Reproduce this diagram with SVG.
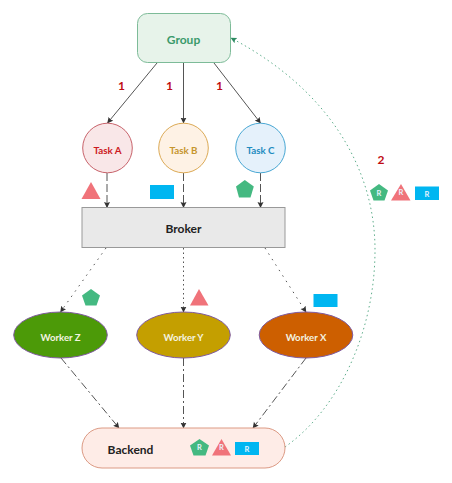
<svg xmlns="http://www.w3.org/2000/svg" width="452" height="483" viewBox="0 0 452 483">
<style>
text{font-family:Lato,"Liberation Sans",sans-serif;font-weight:700;text-anchor:middle}
.t{font-size:9.800px}
.w{font-size:9.600px;fill:#f4f4e0}
.n{font-size:12px;fill:#c00d14}
.b{font-size:12px;fill:#222}
.r{font-size:7.500px;fill:#e8f4ff}
.c{fill:none;stroke:#555;stroke-width:1}
.tri{fill:#f0737a}.pen{fill:#44b981}.rec{fill:#00b6f1}
.e{stroke:#7f5a9e;stroke-width:1}
</style>
<defs>
<marker id="a" markerWidth="8" markerHeight="8" refX="5.500" refY="3" orient="auto" markerUnits="userSpaceOnUse"><path d="M0,0L6,3L0,6L1,3Z" fill="#333"/></marker>
<marker id="g" markerWidth="8" markerHeight="8" refX="5.500" refY="3" orient="auto" markerUnits="userSpaceOnUse"><path d="M0,0L6,3L0,6L1,3Z" fill="#2e8b62"/></marker>
</defs>
<g id="connectors">
<path class="c" marker-end="url(#a)" d="M157,63L107.500,123"/>
<path class="c" marker-end="url(#a)" d="M183.500,63V123"/>
<path class="c" marker-end="url(#a)" d="M214,63L260.500,123"/>
<path class="c" stroke-dasharray="8 3" marker-end="url(#a)" d="M107,173V207.500"/>
<path class="c" stroke-dasharray="8 3" marker-end="url(#a)" d="M183.500,173V207.500"/>
<path class="c" stroke-dasharray="8 3" marker-end="url(#a)" d="M260.500,173V207.500"/>
<path class="c" stroke-dasharray="1.500 5" marker-end="url(#a)" d="M106,248L60.500,312"/>
<path class="c" stroke-dasharray="1.500 3" marker-end="url(#a)" d="M183.500,248V312"/>
<path class="c" stroke-dasharray="1.500 5" marker-end="url(#a)" d="M265,248L306,312"/>
<path class="c" stroke-dasharray="8 3 2 3" marker-end="url(#a)" d="M61,358L119,428"/>
<path class="c" stroke-dasharray="8 3 2 3" marker-end="url(#a)" d="M183.500,358V428"/>
<path class="c" stroke-dasharray="8 3 2 3" marker-end="url(#a)" d="M306,358L253,428"/>
<path fill="none" stroke="#5fae8c" stroke-width="1" stroke-dasharray="1.500 3" marker-end="url(#g)" d="M285,447C340,408 375,330 375,250C375,170 330,90 231,38"/>
</g>
<g id="group"><rect x="137.500" y="13.500" width="93" height="49" rx="10" fill="#e7f3ea" stroke="#7dbb98" stroke-width="1"/><text x="183.500" y="43.500" fill="#3a9a6b" style="font-size:12px">Group</text></g>
<g id="label-1a"><text class="n" x="121.500" y="90">1</text></g>
<g id="label-1b"><text class="n" x="169.500" y="90">1</text></g>
<g id="label-1c"><text class="n" x="219.500" y="90">1</text></g>
<g id="task-a"><circle cx="107.500" cy="148" r="24.800" fill="#f9e7e8" stroke="#c8636b"/><text class="t" x="107.500" y="153.500" fill="#cc1a22">Task A</text></g>
<g id="task-b"><circle cx="183.500" cy="148" r="24.800" fill="#fef2e5" stroke="#dcaa56"/><text class="t" x="183.500" y="153.500" fill="#c6962e">Task B</text></g>
<g id="task-c"><circle cx="260.500" cy="148" r="24.800" fill="#e5f1fb" stroke="#4aa8d4"/><text class="t" x="260.500" y="153.500" fill="#1f8cc0">Task C</text></g>
<g id="msg-a"><polygon class="tri" points="91,182 100.500,199 81.500,199"/></g>
<g id="msg-b"><rect class="rec" x="150" y="185" width="24" height="14"/></g>
<g id="msg-c"><polygon class="pen" points="244.800,180 253.800,186.500 250.500,197.500 239,197.500 236,186.500"/></g>
<g id="broker"><rect x="82" y="207.500" width="203" height="40" fill="#e9e9e9" stroke="#999" stroke-width="1"/><text class="b" x="183.500" y="232.500">Broker</text></g>
<g id="msg-z"><polygon class="pen" points="91,289 100,295.500 96.500,305.500 85.500,305.500 82,295.500"/></g>
<g id="msg-y"><polygon class="tri" points="199,289 208.500,305.500 190,305.500"/></g>
<g id="msg-x"><rect class="rec" x="313.500" y="294" width="24" height="13"/></g>
<g id="worker-z"><ellipse class="e" cx="60.500" cy="335" rx="46.800" ry="23" fill="#4c9a08"/><text class="w" x="60.500" y="340.500">Worker Z</text></g>
<g id="worker-y"><ellipse class="e" cx="183.500" cy="335" rx="46.800" ry="23" fill="#c49f00"/><text class="w" x="183.500" y="340.500">Worker Y</text></g>
<g id="worker-x"><ellipse class="e" cx="306" cy="335" rx="46.800" ry="23" fill="#cd5f00"/><text class="w" x="306" y="340.500">Worker X</text></g>
<g id="backend"><rect x="82" y="428" width="203" height="40" rx="20" fill="#feece7" stroke="#dc9a84" stroke-width="1"/><text class="b" x="130.500" y="453.500">Backend</text>
<polygon class="pen" points="199.500,439 209,445.500 205.500,455.500 193.500,455.500 190,445.500"/><text class="r" x="199.500" y="450">R</text>
<polygon class="tri" points="221.500,439 231,455.500 212,455.500"/><text class="r" x="221.500" y="450">R</text>
<rect class="rec" x="235" y="442" width="24" height="13"/><text class="r" x="247" y="451.500">R</text></g>
<g id="label-2"><text class="n" x="381" y="164">2</text></g>
<g id="results">
<polygon class="pen" points="379,184 388,190.500 384.500,200.500 373.500,200.500 370,190.500"/><text class="r" x="379" y="195.500">R</text>
<polygon class="tri" points="401,184 410.500,200.500 391,200.500"/><text class="r" x="401" y="195">R</text>
<rect class="rec" x="415" y="186.500" width="24" height="13.500"/><text class="r" x="427" y="196.500">R</text></g>
</svg>
